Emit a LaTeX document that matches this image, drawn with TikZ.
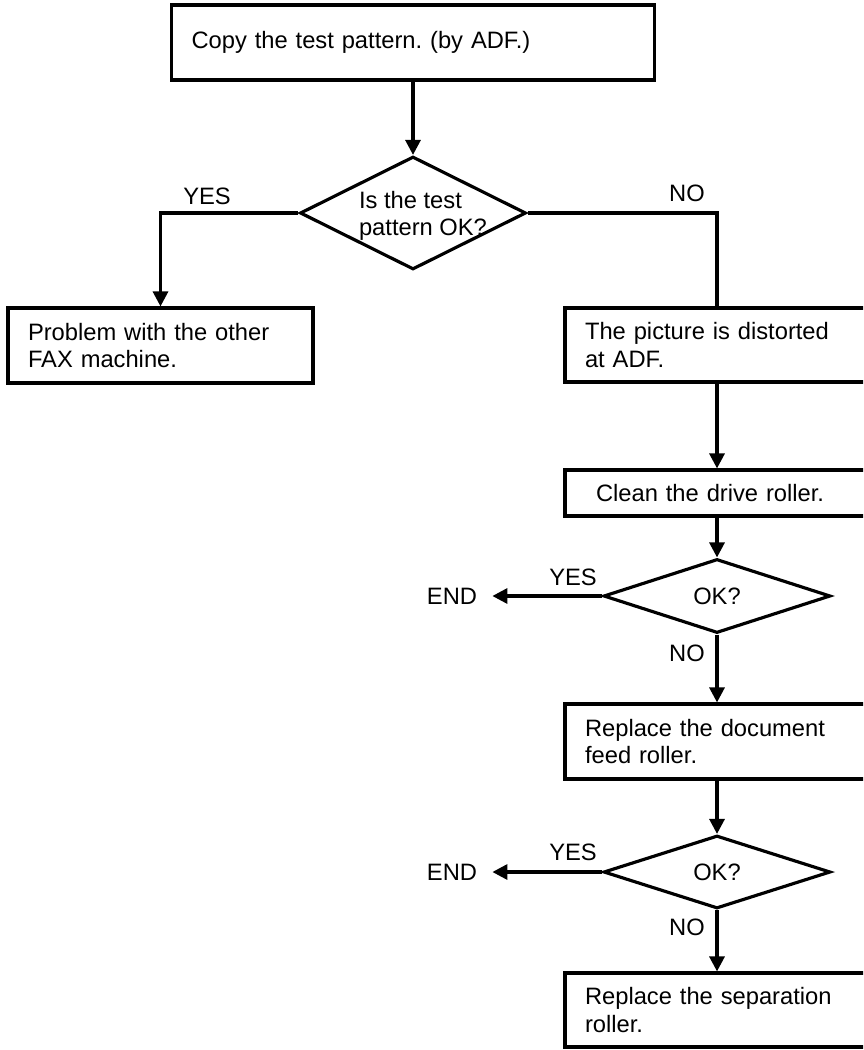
\documentclass[tikz,border=0pt]{standalone}
\usepackage{fontspec}
\setmainfont{Liberation Sans}
\usepackage{tikz}
\usetikzlibrary{arrows.meta,shapes.geometric}
\frenchspacing

\begin{document}
\begin{tikzpicture}[x=0.02cm,y=-0.02cm,font=\fontsize{13.5}{15.4}\selectfont,
  >={Triangle[length=0.3cm,width=0.3cm]},
  box/.style={draw,line width=1.8pt,rectangle,align=left,inner xsep=0.4cm,inner ysep=0pt},
  dec/.style={draw,line width=1.8pt,diamond,align=left,inner sep=0pt},
  lbl/.style={inner sep=0pt},
  flow/.style={line width=1.8pt}]
\useasboundingbox (0,0) rectangle (863,1050);
\clip (0,0) rectangle (863,1050);
% start and first question
\node[box,text width=8.86cm,minimum height=1.5cm] (copy) at (413,42.5) {Copy the test pattern. (by ADF.)};
\node[dec,aspect=2,minimum width=4.52cm,minimum height=2.26cm] (q1) at (413,213) {};
\node[lbl,align=left] (q1txt) at (423,216) {Is the test\\pattern OK?};
\node[box,text width=5.3cm,minimum height=1.5cm] (other) at (160.5,345.5) {Problem with the other\\FAX machine.};
\node[box,text width=5.28cm,minimum height=1.48cm] (adf) at (717,345) {The picture is distorted\\at ADF.};
% right column, boxes run past the page edge
\node[box,text width=4.84cm,inner xsep=0.62cm,minimum height=0.92cm] (drive) at (717,493) {Clean the drive roller.};
\node[dec,aspect=3,minimum width=4.54cm,minimum height=1.48cm] (q2) at (717,596) {OK?};
\node[box,text width=5.28cm,minimum height=1.5cm] (feed) at (717,741.5) {Replace the document\\feed roller.};
\node[dec,aspect=3,minimum width=4.54cm,minimum height=1.46cm] (q3) at (717,872) {OK?};
\node[box,text width=5.28cm,minimum height=1.48cm] (sep) at (717,1010) {Replace the separation\\roller.};
\node[lbl,inner xsep=0.3cm] (end1) at (452,596) {END};
\node[lbl,inner xsep=0.3cm] (end2) at (452,872) {END};
% branch labels
\node[lbl] (yes1) at (207,196) {YES};
\node[lbl] (no1) at (687,193) {NO};
\node[lbl] (yes2) at (573,577) {YES};
\node[lbl] (no2) at (687,653) {NO};
\node[lbl] (yes3) at (573,852) {YES};
\node[lbl] (no3) at (687,927) {NO};
% connectors
\draw[flow,->] (copy) -- (q1);
\draw[flow,->] (q1.west) -| (other.north);
\draw[flow] (q1.east) -| (adf.north);
\draw[flow,->] (adf) -- (drive);
\draw[flow,->] (drive) -- (q2);
\draw[flow,->] (q2.west) -- (end1.east);
\draw[flow,->] (q2) -- (feed);
\draw[flow,->] (feed) -- (q3);
\draw[flow,->] (q3.west) -- (end2.east);
\draw[flow,->] (q3) -- (sep);
\end{tikzpicture}
\end{document}
